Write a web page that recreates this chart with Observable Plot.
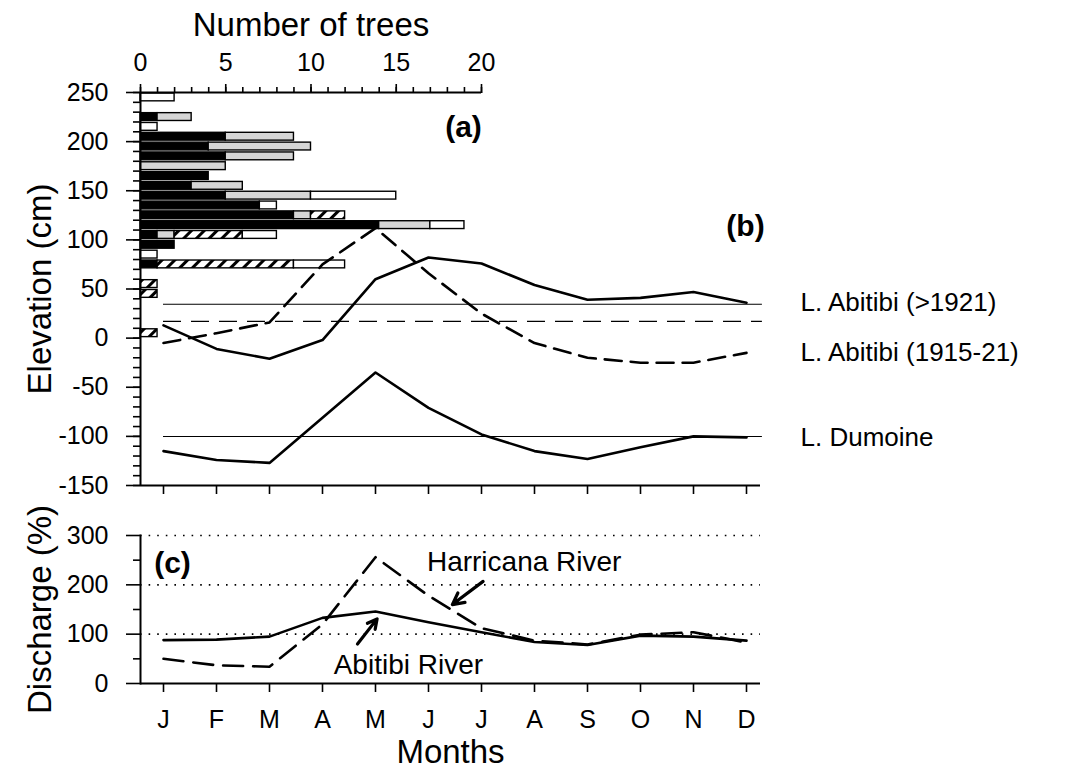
<!DOCTYPE html>
<html><head><meta charset="utf-8">
<script src="https://cdn.jsdelivr.net/npm/d3@7"></script>
<script src="https://cdn.jsdelivr.net/npm/@observablehq/plot@0.6"></script>
<style>
body{margin:0;background:#fff;}
#wrap{position:relative;width:1070px;height:771px;overflow:hidden;background:#fff;}
#wrap svg{position:absolute;left:0;top:0;}
</style></head><body><div id="wrap"></div>
<script>
// ---------- data ----------
const months = ["J","F","M","A","M","J","J","A","S","O","N","D"];
const abitibiPost1921 = [13,-11,-21,-2,60,82,76,54,39,41,47,36];
const abitibi1915_21 = [-5,5,16,75,112,66,25,-5,-20,-25,-25,-15];
const dumoine = [-115,-124,-127,-81,-35,-71,-98,-115,-123,-111,-100,-101];
const lakeNames = ["L. Abitibi (>1921)","L. Abitibi (1915-21)","L. Dumoine"];

const abitibiRiver = [88,89,95,133,146,124,104,84,78,97,95,87];
const harricanaRiver = [50,37,34,120,256,178,112,87,79,99,104,83];

// tree counts per 10-cm elevation class (lower bound)
const elevClass = [240,220,210,200,190,180,170,160,150,140,130,120,110,100,90,80,70,50,40,0];
const nBlack  = [0,1,0,5,4,5,0,4,3,5,7,9,14,1,2,0,1,0,0,0];
const nGrey   = [0,2,0,4,6,4,5,0,3,5,0,1,3,1,0,0,0,0,0,0];
const nHatch  = [0,0,0,0,0,0,0,0,0,0,0,2,0,4,0,0,8,1,1,1];
const nWhite  = [2,0,1,0,0,0,0,0,0,5,1,0,2,2,0,1,3,0,0,0];

const treeTicks = [0,5,10,15,20];
const elevTicks = [-150,-100,-50,0,50,100,150,200,250];
const dischargeTicks = [0,100,200,300];

// annotation anchors (month index, discharge %)
const riverLabels = [
  {text:"Harricana River", i:4.97, v:246},
  {text:"Abitibi River", i:4.62, v:38}
];
const riverArrows = [
  {i1:6.03, v1:207, i2:5.45, v2:160},
  {i1:3.66, v1:80, i2:4.03, v2:131}
];

// ---------- layout ----------
const W = 1070, H = 771;
const FONT = "'Liberation Sans', Arial, Helvetica, sans-serif";
const style = {fontFamily: FONT, fontSize: "25px", background: "transparent", color: "#000", overflow: "visible"};
const LEFT = 140, TREE_RIGHT = 481, RIGHT = 760;
const B_TOP = 92, B_BOTTOM = 485, C_TOP = 535, C_BOTTOM = 683;
const MONTH_RANGE = [163, 746];
const TITLE = 33;

// ---------- panel (a): tree bars ----------
const kinds = [["black", nBlack, "#000"], ["grey", nGrey, "#d6d6d6"], ["hatch", nHatch, "url(#hatch)"], ["white", nWhite, "#fff"]];
const barRows = [];
elevClass.forEach((e, r) => {
  let c = 0;
  kinds.forEach(([k, arr]) => {
    const n = arr[r];
    if (n > 0) { barRows.push({lo: e, hi: e + 10, x1: c, x2: c + n, kind: k}); c += n; }
  });
});

const pBars = Plot.plot({
  width: W, height: H,
  marginLeft: LEFT, marginRight: W - TREE_RIGHT, marginTop: B_TOP, marginBottom: H - B_BOTTOM,
  x: {domain: [0, 20]},
  y: {domain: [-150, 250]},
  style,
  marks: [
    ...kinds.map(([k, , fill]) => Plot.rectX(barRows.filter(d => d.kind === k), {
      x1: "x1", x2: "x2", y1: "lo", y2: "hi", fill, stroke: "#000", strokeWidth: 1.4, insetTop: 1, insetBottom: 1
    })),
    Plot.ruleX([0], {stroke: "#000", strokeWidth: 2}),
    Plot.ruleY([250], {stroke: "#000", strokeWidth: 2}),
    Plot.axisX({anchor: "top", ticks: d3.range(0, 21, 1), tickSize: 6, tickFormat: () => "", label: null, strokeWidth: 1.6}),
    Plot.axisX({anchor: "top", ticks: treeTicks, tickSize: 9, tickPadding: 13, label: null, strokeWidth: 1.6, tickFormat: d => String(d)}),
    Plot.axisY({anchor: "left", ticks: d3.range(-150, 251, 10), tickSize: 7, tickFormat: () => "", label: null, strokeWidth: 1.6}),
    Plot.axisY({anchor: "left", ticks: elevTicks, tickSize: 14, tickPadding: 18, label: null, strokeWidth: 1.6, tickFormat: d => String(d)}),
    Plot.text(["Number of trees"], {frameAnchor: "top", dy: -67, lineAnchor: "middle", fontSize: TITLE}),
    Plot.text(["Elevation (cm)"], {frameAnchor: "left", dx: -100, rotate: -90, textAnchor: "middle", lineAnchor: "middle", fontSize: TITLE}),
    Plot.text(["(a)"], {frameAnchor: "top-right", dx: -18, dy: 35, textAnchor: "middle", lineAnchor: "middle", fontSize: 30, fontWeight: "bold"})
  ]
});
const ns = "http://www.w3.org/2000/svg";
const defs = document.createElementNS(ns, "defs");
defs.innerHTML = `<pattern id="hatch" width="9" height="9" patternUnits="userSpaceOnUse" patternTransform="rotate(45)">
  <rect width="9" height="9" fill="#fff"></rect>
  <line x1="1" y1="0" x2="1" y2="9" stroke="#000" stroke-width="4"></line></pattern>`;
pBars.insertBefore(defs, pBars.firstChild);

// ---------- panel (b): lake levels ----------
const lakeSeries = [abitibiPost1921, abitibi1915_21, dumoine];
const lakeDash = [null, "17,9", null];
const refDash = [null, "18,10", null];
const lakeRows = lakeSeries.map((s, k) => s.map((v, i) => ({i, v, k})));

const pLines = Plot.plot({
  width: W, height: H,
  marginLeft: LEFT, marginRight: W - RIGHT, marginTop: B_TOP, marginBottom: H - B_BOTTOM,
  x: {domain: [0, months.length - 1], range: MONTH_RANGE},
  y: {domain: [-150, 250], axis: null},
  style,
  marks: [
    Plot.ruleY([-150], {stroke: "#000", strokeWidth: 2}),
    Plot.axisX({anchor: "bottom", ticks: d3.range(months.length), tickSize: 9, tickFormat: () => "", label: null, strokeWidth: 1.6}),
    ...lakeSeries.map((s, k) => Plot.ruleY([d3.mean(s)], {x1: 0, x2: 11.3, stroke: "#000", strokeWidth: 1.1, strokeDasharray: refDash[k]})),
    ...lakeRows.map((rows, k) => Plot.line(rows, {x: "i", y: "v", stroke: "#000", strokeWidth: 2.6, strokeDasharray: lakeDash[k]})),
    Plot.text(lakeSeries.map((s, k) => ({i: s.length - 1, v: s[s.length - 1], t: lakeNames[k]})),
      {x: "i", y: "v", text: "t", dx: 54, textAnchor: "start", lineAnchor: "middle", fontSize: 26}),
    Plot.text(["(b)"], {frameAnchor: "top-right", dx: -15, dy: 134, textAnchor: "middle", lineAnchor: "middle", fontSize: 30, fontWeight: "bold"})
  ]
});

// ---------- panel (c): discharge ----------
const pC = Plot.plot({
  width: W, height: H,
  marginLeft: LEFT, marginRight: W - RIGHT, marginTop: C_TOP, marginBottom: H - C_BOTTOM,
  x: {domain: [0, months.length - 1], range: MONTH_RANGE},
  y: {domain: [0, 300]},
  style,
  marks: [
    Plot.ruleY([100, 200, 300], {stroke: "#000", strokeWidth: 1.6, strokeDasharray: "1.6,7"}),
    Plot.ruleY([0], {stroke: "#000", strokeWidth: 2}),
    Plot.frame({anchor: "left", stroke: "#000", strokeWidth: 2}),
    Plot.axisY({anchor: "left", ticks: [50, 150, 250], tickSize: 7, tickFormat: () => "", label: null, strokeWidth: 1.6}),
    Plot.axisY({anchor: "left", ticks: dischargeTicks, tickSize: 14, tickPadding: 18, label: null, strokeWidth: 1.6, tickFormat: d => String(d)}),
    Plot.axisX({anchor: "bottom", ticks: d3.range(months.length), tickSize: 9, tickPadding: 18, label: null, strokeWidth: 1.6, tickFormat: i => months[i]}),
    Plot.line(abitibiRiver.map((v, i) => ({i, v})), {x: "i", y: "v", stroke: "#000", strokeWidth: 2.6}),
    Plot.line(harricanaRiver.map((v, i) => ({i, v})), {x: "i", y: "v", stroke: "#000", strokeWidth: 2.6, strokeDasharray: "20,10"}),
    Plot.arrow(riverArrows, {x1: "i1", y1: "v1", x2: "i2", y2: "v2", stroke: "#000", strokeWidth: 3.2, headLength: 14, headAngle: 55}),
    Plot.text(riverLabels, {x: "i", y: "v", text: "text", textAnchor: "start", lineAnchor: "middle", fontSize: 28, filter: (d, j) => j === 0}),
    Plot.text(riverLabels, {x: "i", y: "v", text: "text", textAnchor: "middle", lineAnchor: "middle", fontSize: 28, filter: (d, j) => j === 1}),
    Plot.text(["(c)"], {frameAnchor: "top-left", dx: 32, dy: 28, textAnchor: "middle", lineAnchor: "middle", fontSize: 30, fontWeight: "bold"}),
    Plot.text(["Discharge (%)"], {frameAnchor: "left", dx: -100, rotate: -90, textAnchor: "middle", lineAnchor: "middle", fontSize: TITLE}),
    Plot.text(["Months"], {frameAnchor: "bottom", dy: 69, lineAnchor: "middle", fontSize: TITLE})
  ]
});

const wrap = document.getElementById("wrap");
wrap.append(pBars, pLines, pC);
</script></body></html>
